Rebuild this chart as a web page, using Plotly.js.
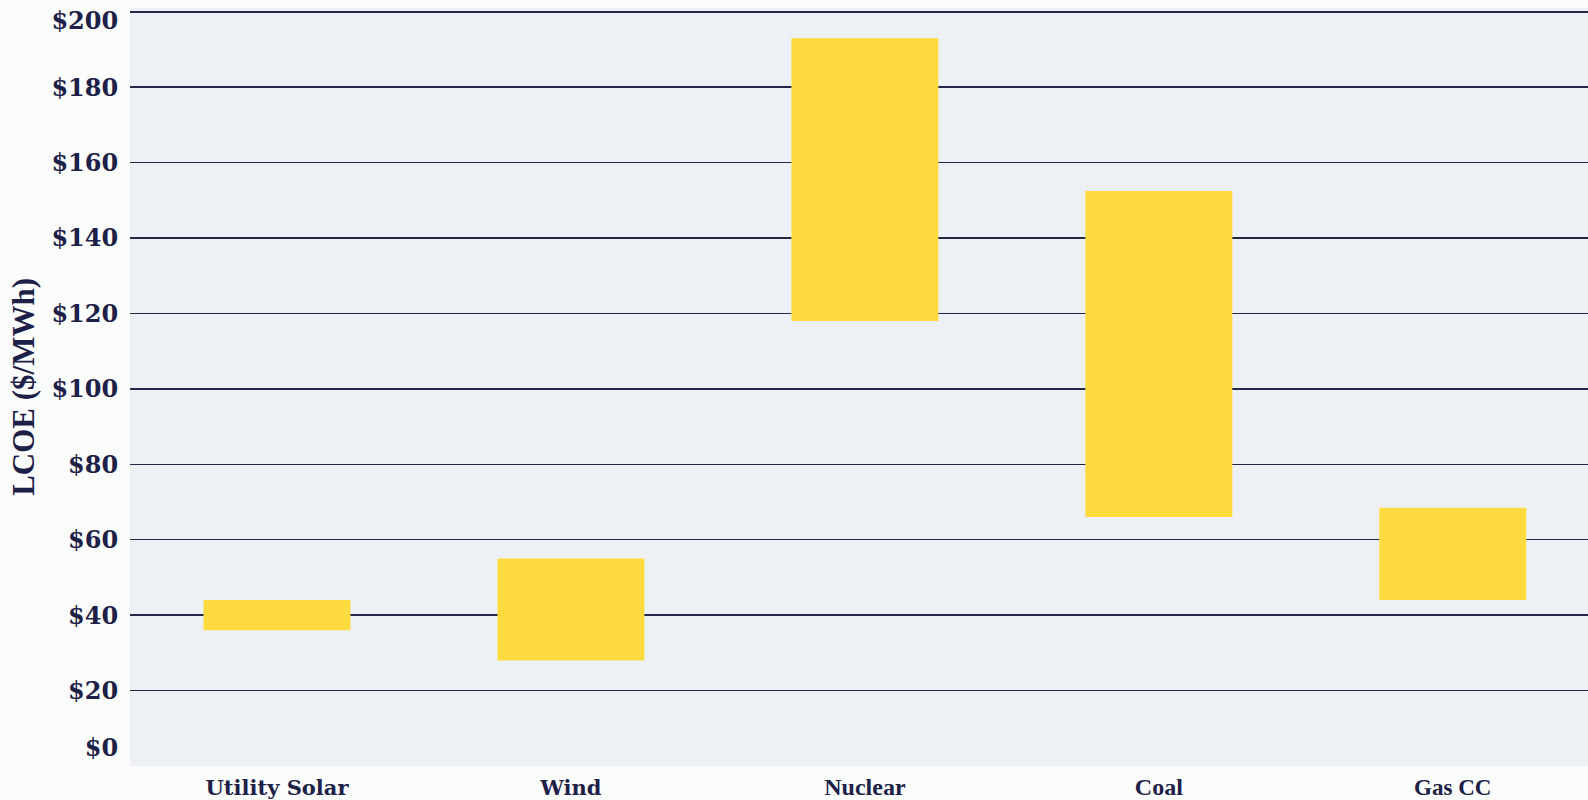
<!DOCTYPE html>
<html>
<head>
<meta charset="utf-8">
<script src="https://cdn.plot.ly/plotly-3.0.1.min.js"></script>
<style>
  html, body { margin: 0; padding: 0; background: #fbfcfc; }
  #chart { width: 1588px; height: 800px; }
</style>
</head>
<body>
<div id="chart"></div>
<script>
// ---- data ----
const categories = ["Utility Solar", "Wind", "Nuclear", "Coal", "Gas CC"];
const lcoeLow  = [36, 28, 118, 66, 44];
const lcoeHigh = [44, 55, 193, 152.5, 68.5];
const yTickVals = [20, 40, 60, 80, 100, 120, 140, 160, 180];
const yTickText = ["$20", "$40", "$60", "$80", "$100", "$120", "$140", "$160", "$180"];
const yTopVal = [200];
const yTopText = ["$200"];
const yZeroVal = [0];
const yZeroText = ["$0"];

// ---- presentation ----
const navy = "#1d2047";
const wideSerif = "DejaVu Serif, serif";
const narrowSerif = "Liberation Serif, Times New Roman, serif";
const labelFonts = [wideSerif, wideSerif, narrowSerif, narrowSerif, narrowSerif];
const labelSizes = [21, 21, 24, 24, 23];
const xTickText = categories.map((c, i) =>
  `<span style="font-family:${labelFonts[i]};font-size:${labelSizes[i]}px">${c}</span>`);

const heights = lcoeHigh.map((h, i) => h - lcoeLow[i]);

const trace = {
  type: "bar",
  x: categories.map((c, i) => i),
  y: heights,
  base: lcoeLow,
  width: 0.5,
  marker: { color: "#ffdb40", line: { width: 0 } },
  hoverinfo: "skip",
  showlegend: false
};

// invisible traces to activate overlay axes for the edge labels
const dummy2 = {
  type: "scatter", x: [0], y: [0], yaxis: "y2", mode: "markers",
  marker: { opacity: 0 }, hoverinfo: "skip", showlegend: false
};
const dummy3 = {
  type: "scatter", x: [0], y: [0], yaxis: "y3", mode: "markers",
  marker: { opacity: 0 }, hoverinfo: "skip", showlegend: false
};

const yCommon = {
  range: [0, 201],
  tickfont: { family: wideSerif, size: 24, color: navy, weight: "bold" },
  zeroline: false, showline: false,
  ticks: "outside", ticklen: 6, tickcolor: "rgba(0,0,0,0)",
  ticklabeloverflow: "allow",
  fixedrange: true
};

const layout = {
  width: 1588, height: 800,
  margin: { l: 130, r: 0, t: 8, b: 34 },
  paper_bgcolor: "#fbfcfc",
  plot_bgcolor: "#edf1f6",
  font: { family: wideSerif, color: navy },
  xaxis: {
    range: [-0.5, 4.46],
    tickvals: [0, 1, 2, 3, 4],
    ticktext: xTickText,
    tickfont: { family: wideSerif, size: 21, color: navy, weight: "bold" },
    showgrid: false, zeroline: false, showline: false,
    ticks: "outside", ticklen: 3, tickcolor: "rgba(0,0,0,0)",
    ticklabeloverflow: "allow",
    fixedrange: true
  },
  yaxis: Object.assign({}, yCommon, {
    tickvals: yTickVals.concat(yTopVal),
    ticktext: yTickText.concat([""]),
    showgrid: true, gridcolor: "#232748", gridwidth: 1.5
  }),
  yaxis2: Object.assign({}, yCommon, {
    overlaying: "y", side: "left",
    tickvals: yZeroVal, ticktext: yZeroText,
    ticklabelshift: -18, showgrid: false
  }),
  yaxis3: Object.assign({}, yCommon, {
    overlaying: "y", side: "left",
    tickvals: yTopVal, ticktext: yTopText,
    ticklabelshift: 9, showgrid: false
  }),
  annotations: [{
    xref: "paper", yref: "paper",
    x: -0.0735, y: 0.5,
    xanchor: "center", yanchor: "middle",
    textangle: -90,
    text: "LCOE ($/MWh)",
    showarrow: false,
    font: { family: narrowSerif, size: 31, color: navy, weight: "bold" }
  }],
  bargap: 0.5
};

Plotly.newPlot("chart", [trace, dummy2, dummy3], layout, { staticPlot: true, displayModeBar: false });
</script>
</body>
</html>
